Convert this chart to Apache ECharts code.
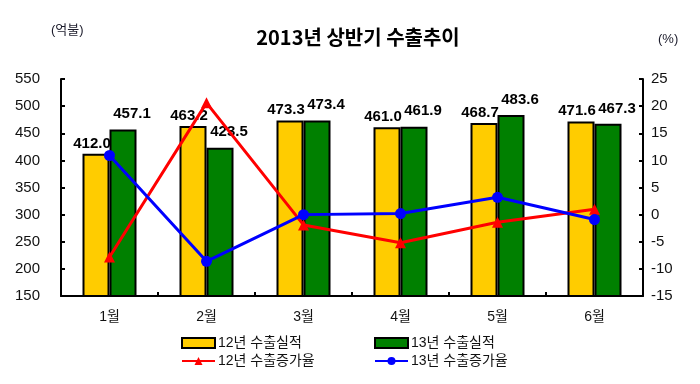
<!DOCTYPE html>
<html><head><meta charset="utf-8">
<script src="https://cdn.jsdelivr.net/npm/echarts@6/dist/echarts.min.js"></script>
<style>html,body{margin:0;padding:0;background:#fff}#c{width:700px;height:384px}</style>
</head><body><div id="c"></div>
<script>
const categories = ['1월','2월','3월','4월','5월','6월'];
const exports12 = [412.0, 463.2, 473.3, 461.0, 468.7, 471.6];
const exports13 = [457.1, 423.5, 473.4, 461.9, 483.6, 467.3];
const growth12 = [-7.8, 20.6, -1.9, -5.2, -1.4, 1.0];
const growth13 = [10.9, -8.6, 0.0, 0.2, 3.2, -0.9];
const names = ['12년 수출실적','13년 수출실적','12년 수출증가율','13년 수출증가율'];

const FONT = 'Liberation Sans, Arial, Noto Sans CJK KR, sans-serif';
const chart = echarts.init(document.getElementById('c'));
const legendBase = {
  orient:'horizontal', itemWidth:33, itemHeight:10, itemGap:4,
  textStyle:{fontFamily:FONT, fontSize:14, color:'#111', padding:[0,0,0,-2]}, padding:0
};
chart.setOption({
  animation:false,
  title:[
    {text:'2013년 상반기 수출추이', left:353, top:22, textAlign:'center',
     textStyle:{fontFamily:'Noto Sans CJK KR, sans-serif', fontWeight:'bold', fontSize:20, color:'#000'}},
    {text:'(억불)', left:46, top:19, textStyle:{fontFamily:FONT, fontWeight:'normal', fontSize:13, color:'#1a1a2a'}},
    {text:'(%)', left:653, top:28, textStyle:{fontFamily:FONT, fontWeight:'normal', fontSize:13, color:'#1a1a2a'}}
  ],
  legend:[
    Object.assign({}, legendBase, {data:[{name:names[0], icon:'rect'}], left:181, top:336}),
    Object.assign({}, legendBase, {data:[{name:names[1], icon:'rect'}], left:374, top:336}),
    Object.assign({}, legendBase, {data:[names[2]], left:181, top:354}),
    Object.assign({}, legendBase, {data:[names[3]], left:374, top:354})
  ],
  grid:{left:61, right:57, top:79, bottom:88},
  xAxis:{
    type:'category', data:categories,
    axisLine:{onZero:false, lineStyle:{color:'#000', width:2}},
    axisTick:{show:true, inside:true, length:4, lineStyle:{color:'#000', width:2}},
    axisLabel:{fontFamily:FONT, fontSize:14, color:'#111', margin:14}
  },
  yAxis:[
    {type:'value', min:150, max:550, interval:50,
     axisLine:{show:true, lineStyle:{color:'#000', width:2}},
     axisTick:{show:true, inside:true, length:4, lineStyle:{color:'#000', width:2}},
     axisLabel:{fontFamily:FONT, fontSize:15, color:'#111', margin:21},
     splitLine:{show:false}},
    {type:'value', min:-15, max:25, interval:5,
     axisLine:{show:true, onZero:false, lineStyle:{color:'#000', width:2}},
     axisTick:{show:true, inside:true, length:4, lineStyle:{color:'#000', width:2}},
     axisLabel:{fontFamily:FONT, fontSize:15, color:'#111', margin:8},
     splitLine:{show:false}}
  ],
  series:[
    {name:names[0], type:'bar', data:exports12, barWidth:27, barGap:'0%',
     itemStyle:{color:'#FFCC00', borderColor:'#000', borderWidth:2},
     label:{show:true, position:'top', distance:3, offset:[-4,0], formatter:p=>p.value.toFixed(1),
            fontFamily:FONT, fontSize:15, fontWeight:'bold', color:'#000'}},
    {name:names[1], type:'bar', data:exports13, barWidth:27, barGap:'0%',
     itemStyle:{color:'#008000', borderColor:'#000', borderWidth:2},
     label:{show:true, position:'top', distance:6, offset:[9,-2], formatter:p=>p.value.toFixed(1),
            fontFamily:FONT, fontSize:15, fontWeight:'bold', color:'#000'}},
    {name:names[2], type:'line', yAxisIndex:1, data:growth12, z:5,
     symbol:'triangle', symbolSize:11,
     lineStyle:{color:'#FF0000', width:3}, itemStyle:{color:'#FF0000'}},
    {name:names[3], type:'line', yAxisIndex:1, data:growth13, z:6,
     symbol:'circle', symbolSize:11,
     lineStyle:{color:'#0000FF', width:3}, itemStyle:{color:'#0000FF'}}
  ]
});
</script></body></html>
